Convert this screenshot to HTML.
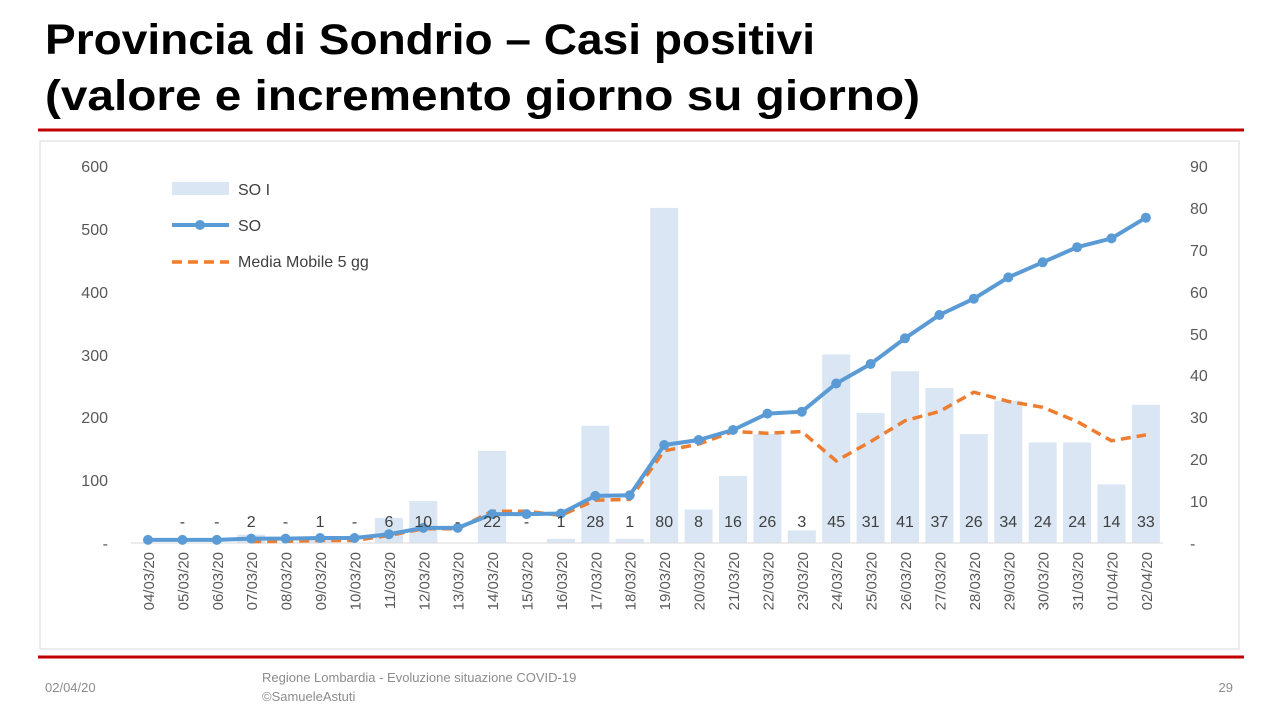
<!DOCTYPE html>
<html><head><meta charset="utf-8"><style>
body{margin:0;width:1280px;height:720px;background:#fff;overflow:hidden;font-family:"Liberation Sans",sans-serif}
</style></head><body>
<svg width="1280" height="720" xmlns="http://www.w3.org/2000/svg" font-family="Liberation Sans, sans-serif">
<text x="45" y="54" font-size="43" font-weight="bold" fill="#000" textLength="770" lengthAdjust="spacingAndGlyphs">Provincia di Sondrio – Casi positivi</text>
<text x="45" y="110" font-size="43" font-weight="bold" fill="#000" textLength="875" lengthAdjust="spacingAndGlyphs">(valore e incremento giorno su giorno)</text>
<line x1="38" y1="130" x2="1244" y2="130" stroke="#c00000" stroke-width="3"/>
<line x1="38" y1="657" x2="1244" y2="657" stroke="#c00000" stroke-width="3"/>
<rect x="40" y="141" width="1199" height="508" fill="none" stroke="#d9d9d9"/>
<g font-size="16" fill="#595959" text-anchor="end">
<text x="108" y="172">600</text><text x="108" y="235">500</text><text x="108" y="298">400</text><text x="108" y="361">300</text><text x="108" y="423">200</text><text x="108" y="486">100</text><text x="108" y="549">-</text>
</g>
<g font-size="16" fill="#595959">
<text x="1190" y="172">90</text><text x="1190" y="214">80</text><text x="1190" y="256">70</text><text x="1190" y="298">60</text><text x="1190" y="340">50</text><text x="1190" y="381">40</text><text x="1190" y="423">30</text><text x="1190" y="465">20</text><text x="1190" y="507">10</text><text x="1190" y="549">-</text>
</g>
<g fill="#dae6f4">
<rect x="237.2" y="534.6" width="28" height="8.4"/><rect x="306.1" y="538.8" width="28" height="4.2"/><rect x="374.9" y="517.9" width="28" height="25.1"/><rect x="409.3" y="501.1" width="28" height="41.9"/><rect x="478.1" y="450.8" width="28" height="92.2"/><rect x="546.9" y="538.8" width="28" height="4.2"/><rect x="581.3" y="425.7" width="28" height="117.3"/><rect x="615.7" y="538.8" width="28" height="4.2"/><rect x="650.2" y="207.9" width="28" height="335.1"/><rect x="684.6" y="509.5" width="28" height="33.5"/><rect x="719" y="476" width="28" height="67"/><rect x="753.4" y="434.1" width="28" height="108.9"/><rect x="787.8" y="530.4" width="28" height="12.6"/><rect x="822.2" y="354.5" width="28" height="188.5"/><rect x="856.6" y="413.1" width="28" height="129.9"/><rect x="891" y="371.3" width="28" height="171.7"/><rect x="925.4" y="388" width="28" height="155"/><rect x="959.8" y="434.1" width="28" height="108.9"/><rect x="994.3" y="400.6" width="28" height="142.4"/><rect x="1028.7" y="442.5" width="28" height="100.5"/><rect x="1063.1" y="442.5" width="28" height="100.5"/><rect x="1097.5" y="484.4" width="28" height="58.6"/><rect x="1131.9" y="404.8" width="28" height="138.2"/>
</g>
<line x1="131" y1="543" x2="1163" y2="543" stroke="#d9d9d9"/>
<polyline fill="none" stroke="#ed7d31" stroke-width="3.5" stroke-dasharray="10,6" points="251.2,541.6 285.6,541.3 320.1,540.5 354.5,540.5 388.9,535.5 423.3,528.8 457.7,528.8 492.1,511.2 526.5,511.2 560.9,515.4 595.3,500.3 629.7,499.4 664.2,450.8 698.6,444.1 733,431.6 767.4,433.2 801.8,431.6 836.2,460.9 870.6,441.6 905,420.7 939.4,411.5 973.8,392.2 1008.3,401.4 1042.7,407.3 1077.1,421.5 1111.5,440.8 1145.9,434.9"/>
<g fill="#5b9bd5"><polyline fill="none" stroke="#5b9bd5" stroke-width="4" points="148,539.9 182.4,539.9 216.8,539.9 251.2,538.6 285.6,538.6 320.1,538 354.5,538 388.9,534.2 423.3,527.9 457.7,527.9 492.1,514.1 526.5,514.1 560.9,513.5 595.3,495.9 629.7,495.3 664.2,445 698.6,440 733,430 767.4,413.6 801.8,411.7 836.2,383.5 870.6,364 905,338.3 939.4,315 973.8,298.7 1008.3,277.4 1042.7,262.3 1077.1,247.2 1111.5,238.4 1145.9,217.7"/>
<circle cx="148" cy="539.9" r="5"/><circle cx="182.4" cy="539.9" r="5"/><circle cx="216.8" cy="539.9" r="5"/><circle cx="251.2" cy="538.6" r="5"/><circle cx="285.6" cy="538.6" r="5"/><circle cx="320.1" cy="538" r="5"/><circle cx="354.5" cy="538" r="5"/><circle cx="388.9" cy="534.2" r="5"/><circle cx="423.3" cy="527.9" r="5"/><circle cx="457.7" cy="527.9" r="5"/><circle cx="492.1" cy="514.1" r="5"/><circle cx="526.5" cy="514.1" r="5"/><circle cx="560.9" cy="513.5" r="5"/><circle cx="595.3" cy="495.9" r="5"/><circle cx="629.7" cy="495.3" r="5"/><circle cx="664.2" cy="445" r="5"/><circle cx="698.6" cy="440" r="5"/><circle cx="733" cy="430" r="5"/><circle cx="767.4" cy="413.6" r="5"/><circle cx="801.8" cy="411.7" r="5"/><circle cx="836.2" cy="383.5" r="5"/><circle cx="870.6" cy="364" r="5"/><circle cx="905" cy="338.3" r="5"/><circle cx="939.4" cy="315" r="5"/><circle cx="973.8" cy="298.7" r="5"/><circle cx="1008.3" cy="277.4" r="5"/><circle cx="1042.7" cy="262.3" r="5"/><circle cx="1077.1" cy="247.2" r="5"/><circle cx="1111.5" cy="238.4" r="5"/><circle cx="1145.9" cy="217.7" r="5"/></g>
<g font-size="16" fill="#404040" text-anchor="middle">
<text x="182.4" y="527">-</text><text x="216.8" y="527">-</text><text x="251.2" y="527">2</text><text x="285.6" y="527">-</text><text x="320.1" y="527">1</text><text x="354.5" y="527">-</text><text x="388.9" y="527">6</text><text x="423.3" y="527">10</text><text x="457.7" y="527">-</text><text x="492.1" y="527">22</text><text x="526.5" y="527">-</text><text x="560.9" y="527">1</text><text x="595.3" y="527">28</text><text x="629.7" y="527">1</text><text x="664.2" y="527">80</text><text x="698.6" y="527">8</text><text x="733" y="527">16</text><text x="767.4" y="527">26</text><text x="801.8" y="527">3</text><text x="836.2" y="527">45</text><text x="870.6" y="527">31</text><text x="905" y="527">41</text><text x="939.4" y="527">37</text><text x="973.8" y="527">26</text><text x="1008.3" y="527">34</text><text x="1042.7" y="527">24</text><text x="1077.1" y="527">24</text><text x="1111.5" y="527">14</text><text x="1145.9" y="527">33</text>
</g>
<g font-size="15" fill="#595959" text-anchor="end">
<text transform="translate(154,552) rotate(-90)">04/03/20</text><text transform="translate(188.4,552) rotate(-90)">05/03/20</text><text transform="translate(222.8,552) rotate(-90)">06/03/20</text><text transform="translate(257.2,552) rotate(-90)">07/03/20</text><text transform="translate(291.6,552) rotate(-90)">08/03/20</text><text transform="translate(326.1,552) rotate(-90)">09/03/20</text><text transform="translate(360.5,552) rotate(-90)">10/03/20</text><text transform="translate(394.9,552) rotate(-90)">11/03/20</text><text transform="translate(429.3,552) rotate(-90)">12/03/20</text><text transform="translate(463.7,552) rotate(-90)">13/03/20</text><text transform="translate(498.1,552) rotate(-90)">14/03/20</text><text transform="translate(532.5,552) rotate(-90)">15/03/20</text><text transform="translate(566.9,552) rotate(-90)">16/03/20</text><text transform="translate(601.3,552) rotate(-90)">17/03/20</text><text transform="translate(635.7,552) rotate(-90)">18/03/20</text><text transform="translate(670.2,552) rotate(-90)">19/03/20</text><text transform="translate(704.6,552) rotate(-90)">20/03/20</text><text transform="translate(739,552) rotate(-90)">21/03/20</text><text transform="translate(773.4,552) rotate(-90)">22/03/20</text><text transform="translate(807.8,552) rotate(-90)">23/03/20</text><text transform="translate(842.2,552) rotate(-90)">24/03/20</text><text transform="translate(876.6,552) rotate(-90)">25/03/20</text><text transform="translate(911,552) rotate(-90)">26/03/20</text><text transform="translate(945.4,552) rotate(-90)">27/03/20</text><text transform="translate(979.8,552) rotate(-90)">28/03/20</text><text transform="translate(1014.3,552) rotate(-90)">29/03/20</text><text transform="translate(1048.7,552) rotate(-90)">30/03/20</text><text transform="translate(1083.1,552) rotate(-90)">31/03/20</text><text transform="translate(1117.5,552) rotate(-90)">01/04/20</text><text transform="translate(1151.9,552) rotate(-90)">02/04/20</text>
</g>
<rect x="172" y="182" width="57" height="13" fill="#dae6f4"/>
<text x="238" y="195" font-size="16" fill="#404040">SO I</text>
<line x1="172" y1="225" x2="229" y2="225" stroke="#5b9bd5" stroke-width="4"/><circle cx="200" cy="225" r="5" fill="#5b9bd5"/>
<text x="238" y="231" font-size="16" fill="#404040">SO</text>
<line x1="172" y1="262" x2="229" y2="262" stroke="#ed7d31" stroke-width="3.5" stroke-dasharray="10,6"/>
<text x="238" y="267" font-size="16" fill="#404040">Media Mobile 5 gg</text>
<text x="45" y="692" font-size="13" fill="#8c8c8c">02/04/20</text>
<text x="262" y="682" font-size="13" fill="#8c8c8c">Regione Lombardia - Evoluzione situazione COVID-19</text>
<text x="262" y="701" font-size="13" fill="#8c8c8c">©SamueleAstuti</text>
<text x="1233" y="692" font-size="13" fill="#8c8c8c" text-anchor="end">29</text>
</svg>
</body></html>
